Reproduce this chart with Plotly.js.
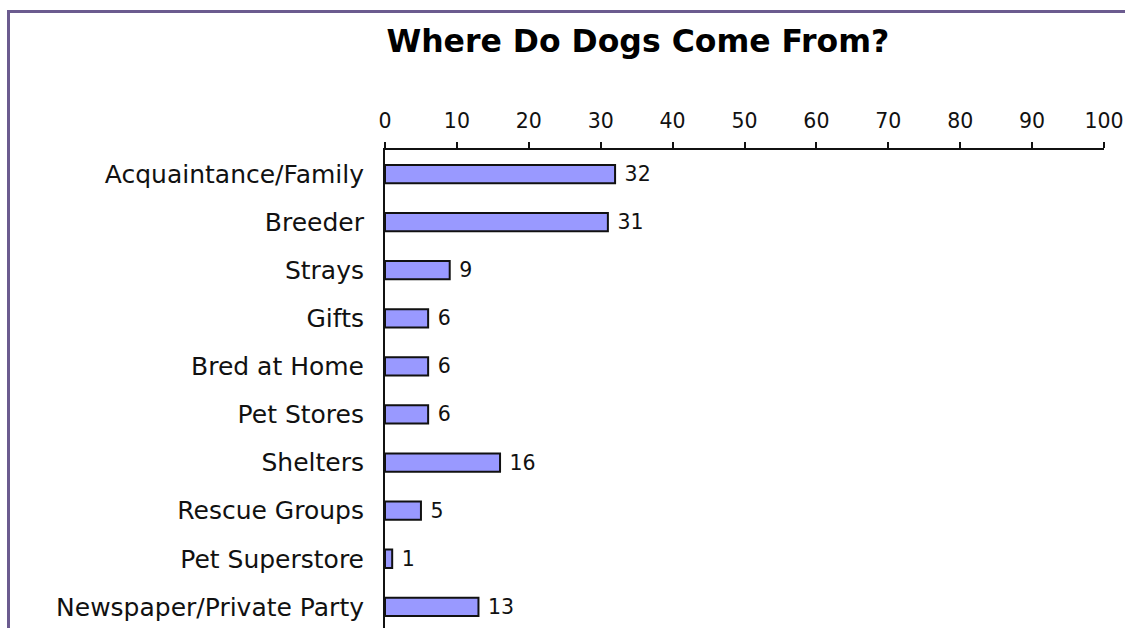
<!DOCTYPE html>
<html>
<head>
<meta charset="utf-8">
<script src="https://cdn.plot.ly/plotly-3.0.1.min.js"></script>
<style>
  html, body { margin:0; padding:0; background:#fff; overflow:hidden; }
  #frame { position:absolute; left:7px; top:10px; width:2000px; height:2000px;
           border-left:3px solid #6b5b8f; border-top:3px solid #6b5b8f; }
  #chart { position:absolute; left:0; top:0; width:1125px; height:628px; }
</style>
</head>
<body>
<div id="frame"></div>
<div id="chart"></div>
<script>
const categories = ["Acquaintance/Family","Breeder","Strays","Gifts","Bred at Home","Pet Stores","Shelters","Rescue Groups","Pet Superstore","Newspaper/Private Party"];
const values = [32, 31, 9, 6, 6, 6, 16, 5, 1, 13];
const xTicks = [0,10,20,30,40,50,60,70,80,90,100];

const trace = {
  type: 'bar',
  orientation: 'h',
  y: categories,
  x: values,
  text: values.map(v => '\u00a0' + v),
  textposition: 'outside',
  constraintext: 'none',
  cliponaxis: false,
  textfont: {family: 'DejaVu Sans', size: 20.5, color: '#111'},
  marker: {color: '#9999ff', line: {color: '#111', width: 2}},
  hoverinfo: 'none'
};

const layout = {
  width: 1125, height: 628,
  margin: {l: 385, r: 21, t: 150, b: 0, pad: 0},
  paper_bgcolor: 'rgba(0,0,0,0)',
  plot_bgcolor: 'rgba(0,0,0,0)',
  showlegend: false,
  bargap: 0.62,
  title: {text: '<b>Where Do Dogs Come From?</b>', x: 0.567, xanchor: 'center', y: 0.935, yanchor: 'middle',
          font: {family: 'DejaVu Sans', size: 31.5, color: '#000'}},
  xaxis: {
    side: 'top', range: [0, 100], tickvals: xTicks, ticktext: xTicks.map(String),
    ticks: 'outside', ticklen: 6, tickwidth: 2, tickcolor: '#111',
    showline: true, linecolor: '#111', linewidth: 2, showgrid: false, zeroline: false,
    tickfont: {family: 'DejaVu Sans', size: 20.5, color: '#111'}, ticklabelstandoff: 6
  },
  yaxis: {
    type: 'category', categoryorder: 'array', categoryarray: categories,
    range: [9.44, -0.5],
    showline: true, linecolor: '#111', linewidth: 2, showgrid: false, zeroline: false,
    ticks: '', tickfont: {family: 'DejaVu Sans', size: 25, color: '#111'}, ticklabelstandoff: 14
  }
};

Plotly.newPlot('chart', [trace], layout, {staticPlot: true, displayModeBar: false});
</script>
</body>
</html>
